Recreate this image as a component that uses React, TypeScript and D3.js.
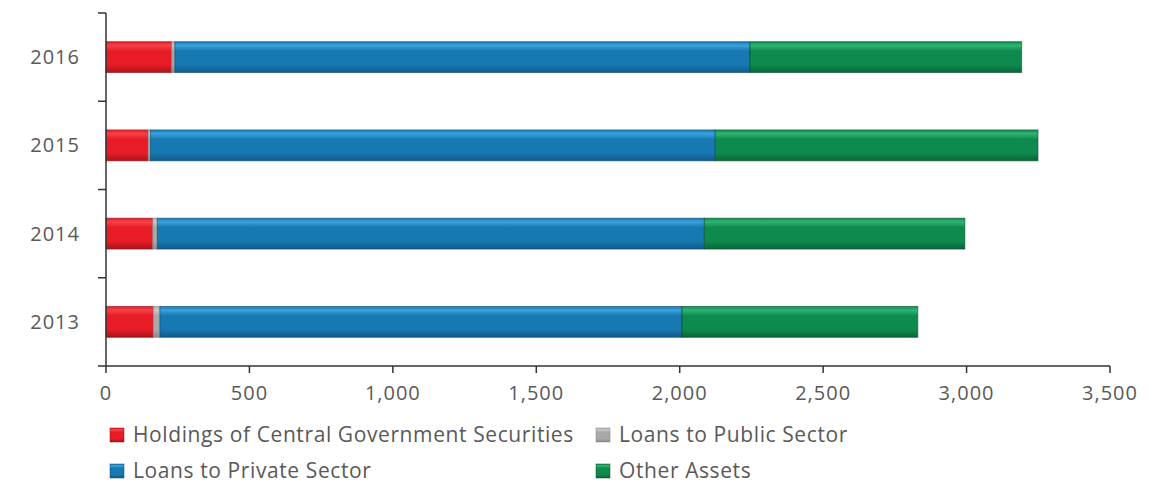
import React from "react";
import * as d3 from "d3";

const years = ["2016", "2015", "2014", "2013"];
const holdings = [229, 147, 163, 165];
const publicLoans = [11, 8, 16, 23];
const privateLoans = [2005, 1969, 1907, 1820];
const otherAssets = [947, 1125, 908, 822];
const xTicks = [0, 500, 1000, 1500, 2000, 2500, 3000, 3500];

const seriesNames = [
  "Holdings of Central Government Securities",
  "Loans to Public Sector",
  "Loans to Private Sector",
  "Other Assets",
];
const seriesKeys = ["holdings", "publicLoans", "privateLoans", "otherAssets"];
const seriesColors = [
  { top: "#f5434a", mid: "#e81c26", bot: "#a8141b", edge: "#8e1016" },
  { top: "#c8c8c8", mid: "#a9a9a9", bot: "#8a8a8a", edge: "#8a8a8a" },
  { top: "#3aa3dc", mid: "#1878b2", bot: "#0f5a88", edge: "#0d4a70" },
  { top: "#2fb673", mid: "#0e8a4e", bot: "#0a6438", edge: "#08502c" },
];

const W = 1169;
const H = 487;
const M = { left: 106, right: 1110, top: 13, bottom: 366 };

export default function App() {
  const rows = years.map((y, i) => ({
    year: y,
    holdings: holdings[i],
    publicLoans: publicLoans[i],
    privateLoans: privateLoans[i],
    otherAssets: otherAssets[i],
  }));
  const stack = d3.stack<any>().keys(seriesKeys)(rows);
  const x = d3.scaleLinear().domain([0, 3500]).range([M.left, M.right]);
  const y = d3
    .scaleBand()
    .domain(years)
    .range([M.top, M.bottom])
    .paddingInner(0.65)
    .paddingOuter(0.325);
  const bw = y.bandwidth();
  const step = y.step();
  const axisColor = "#333";
  const font = "'Open Sans', sans-serif";
  const textColor = "#595959";

  const legendItems = [
    { i: 0, x: 110, y: 435 },
    { i: 1, x: 596, y: 435 },
    { i: 2, x: 110, y: 471 },
    { i: 3, x: 596, y: 471 },
  ];

  return (
    <svg
      width={W}
      height={H}
      style={{ position: "absolute", left: 0, top: 0, background: "#fff" }}
    >
      <defs>
        {seriesColors.map((c, i) => (
          <linearGradient key={i} id={`g${i}`} x1="0" y1="0" x2="0" y2="1">
            <stop offset="0" stopColor={c.mid} />
            <stop offset="0.12" stopColor={c.top} />
            <stop offset="0.3" stopColor={c.mid} />
            <stop offset="0.75" stopColor={c.mid} />
            <stop offset="1" stopColor={c.bot} />
          </linearGradient>
        ))}
      </defs>

      {stack.map((s, si) =>
        s.map((d, di) => (
          <rect
            key={`${si}-${di}`}
            x={x(d[0])}
            y={y(years[di])}
            width={Math.max(0, x(d[1]) - x(d[0]))}
            height={bw}
            fill={`url(#g${si})`}
            stroke={seriesColors[si].edge}
            strokeOpacity={0.6}
            strokeWidth={1}
          />
        ))
      )}

      {/* Y axis */}
      <line x1={M.left} x2={M.left} y1={M.top} y2={M.bottom} stroke={axisColor} strokeWidth={1.5} />
      {d3.range(years.length + 1).map((k) => {
        const ty = M.top + k * step;
        return (
          <line key={k} x1={M.left - 8} x2={M.left} y1={ty} y2={ty} stroke={axisColor} strokeWidth={1.5} />
        );
      })}
      {years.map((yr) => (
        <text
          key={yr}
          x={80}
          y={(y(yr) as number) + bw / 2}
          dy="0.35em"
          textAnchor="end"
          fontFamily={font}
          fontSize={20}
          letterSpacing={1}
          fill={textColor}
        >
          {yr}
        </text>
      ))}

      {/* X axis */}
      <line x1={M.left} x2={M.right} y1={M.bottom} y2={M.bottom} stroke={axisColor} strokeWidth={1.5} />
      {xTicks.map((t) => (
        <g key={t}>
          <line x1={x(t)} x2={x(t)} y1={M.bottom} y2={M.bottom + 7} stroke={axisColor} strokeWidth={1.5} />
          <text
            x={x(t)}
            y={400}
            textAnchor="middle"
            fontFamily={font}
            fontSize={20}
            letterSpacing={1}
            fill={textColor}
          >
            {d3.format(",")(t)}
          </text>
        </g>
      ))}

      {/* Legend */}
      {legendItems.map((it) => (
        <g key={it.i}>
          <rect
            x={it.x}
            y={it.y - 7}
            width={14}
            height={14}
            fill={`url(#g${it.i})`}
            stroke={seriesColors[it.i].edge}
            strokeOpacity={0.5}
          />
          <text
            x={it.x + 23}
            y={it.y}
            dy="0.35em"
            fontFamily={font}
            fontSize={21}
            letterSpacing={0.6}
            fill={textColor}
          >
            {seriesNames[it.i]}
          </text>
        </g>
      ))}
    </svg>
  );
}
